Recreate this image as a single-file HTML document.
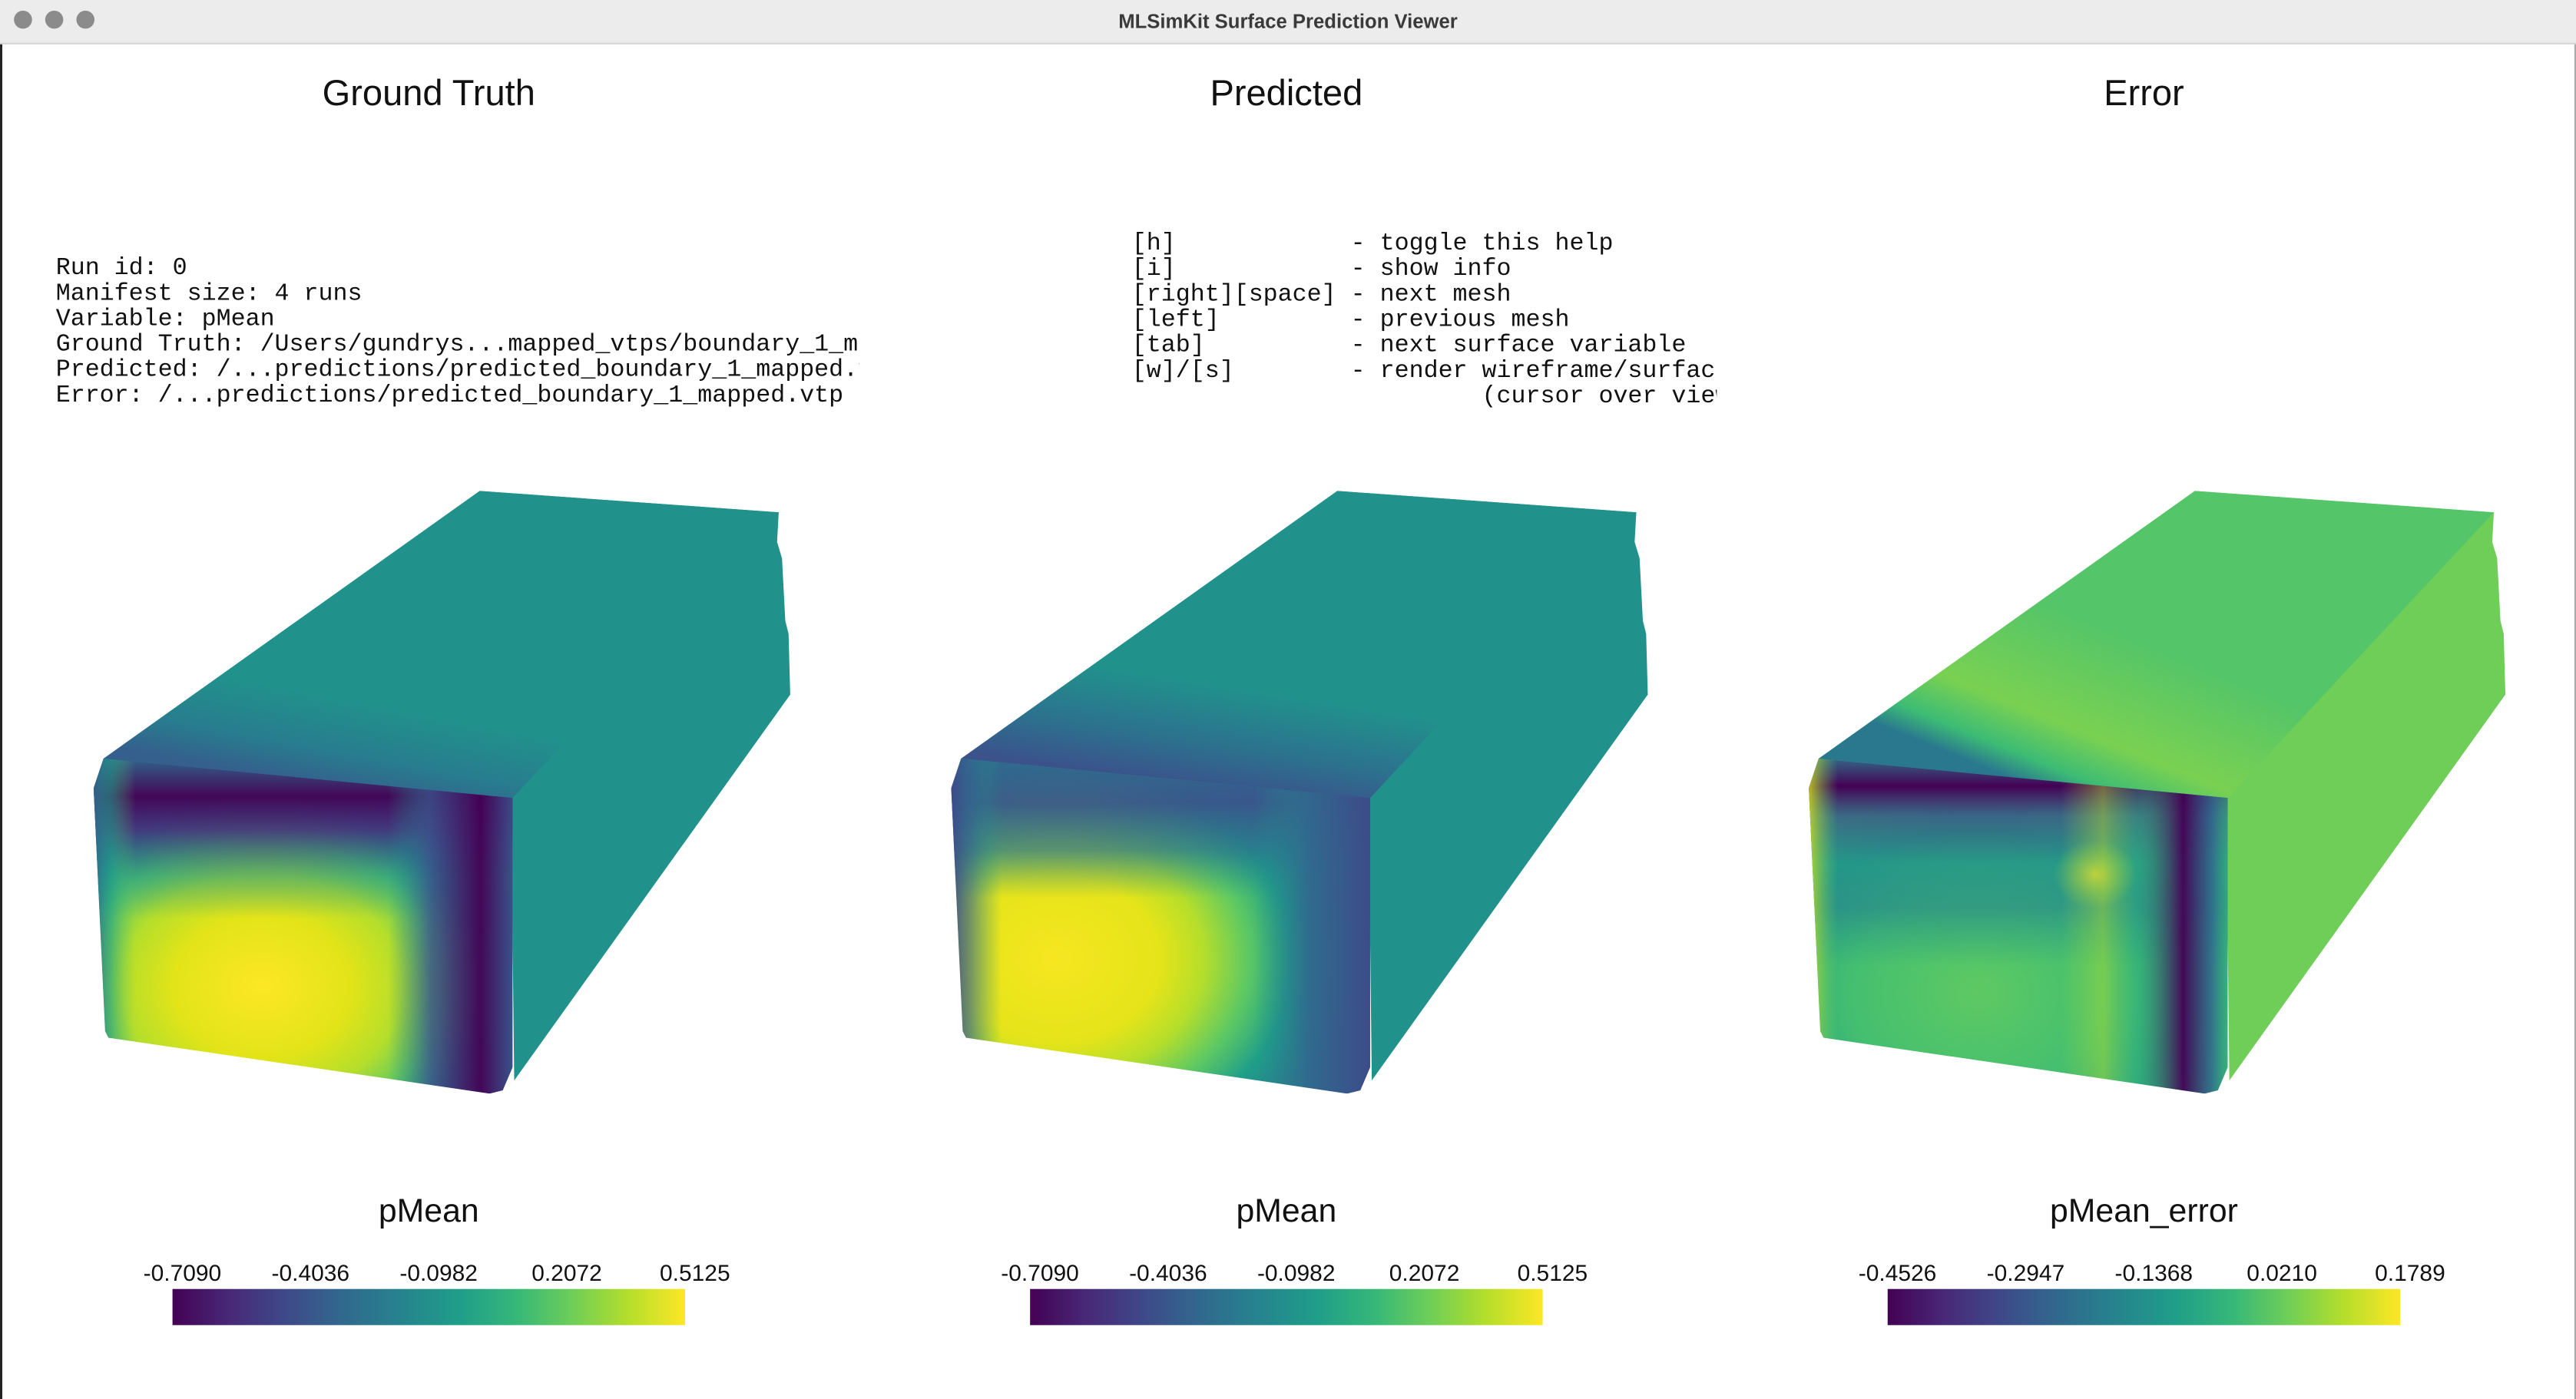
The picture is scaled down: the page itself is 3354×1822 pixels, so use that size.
<!DOCTYPE html>
<html><head><meta charset="utf-8"><style>
html,body{margin:0;padding:0;background:#fff;width:3354px;height:1822px;overflow:hidden}
svg{display:block}
.pre{white-space:pre}
</style></head><body>
<svg id="root" width="3354" height="1822" viewBox="0 0 1568 852" preserveAspectRatio="none" xmlns="http://www.w3.org/2000/svg">
<defs>
<linearGradient id="viridis" x1="0" x2="1" y1="0" y2="0">
<stop offset="0" stop-color="#440154"/><stop offset="0.11" stop-color="#482878"/><stop offset="0.22" stop-color="#3e4989"/><stop offset="0.33" stop-color="#31688e"/><stop offset="0.44" stop-color="#26828e"/><stop offset="0.56" stop-color="#1f9e89"/><stop offset="0.67" stop-color="#35b779"/><stop offset="0.78" stop-color="#6ece58"/><stop offset="0.89" stop-color="#b5de2b"/><stop offset="1" stop-color="#fde725"/>
</linearGradient>
<clipPath id="frontClip"><polygon points="57,480 63,462 312,486 312,650 306,664 298,666 66,632 64,628"/></clipPath>
<clipPath id="infoClip"><rect x="0" y="100" width="523" height="200"/></clipPath>
<clipPath id="helpClip"><rect x="600" y="100" width="445" height="200"/></clipPath>
<!-- GT -->
<radialGradient id="gtBase" cx="0.4" cy="0.68" r="0.6">
<stop offset="0" stop-color="#fde725"/><stop offset="0.35" stop-color="#e2e418"/><stop offset="0.55" stop-color="#b5de2b"/><stop offset="0.72" stop-color="#5ec962"/><stop offset="0.88" stop-color="#21918c"/><stop offset="1" stop-color="#2c728e"/>
</radialGradient>
<linearGradient id="gtTop" x1="0" y1="0" x2="0" y2="1">
<stop offset="0" stop-color="#31688e" stop-opacity="0.9"/><stop offset="0.12" stop-color="#440154" stop-opacity="0.95"/><stop offset="0.22" stop-color="#472d7b" stop-opacity="0.85"/><stop offset="0.36" stop-color="#21918c" stop-opacity="0.5"/><stop offset="0.48" stop-color="#21918c" stop-opacity="0"/>
</linearGradient>
<linearGradient id="gtRight" x1="0" y1="0" x2="1" y2="0">
<stop offset="0.7" stop-color="#21918c" stop-opacity="0"/><stop offset="0.8" stop-color="#3b528b" stop-opacity="0.8"/><stop offset="0.92" stop-color="#440154" stop-opacity="0.95"/><stop offset="1" stop-color="#3b528b" stop-opacity="0.9"/>
</linearGradient>
<linearGradient id="gtLeft" x1="0" y1="0" x2="1" y2="0">
<stop offset="0" stop-color="#31688e" stop-opacity="0.9"/><stop offset="0.04" stop-color="#1f9e89" stop-opacity="0.6"/><stop offset="0.1" stop-color="#5ec962" stop-opacity="0"/>
</linearGradient>
<linearGradient id="gtTopFace" gradientUnits="userSpaceOnUse" x1="190" y1="478" x2="200" y2="425">
<stop offset="0" stop-color="#355f8d"/><stop offset="0.4" stop-color="#287c8e"/><stop offset="1" stop-color="#21918c"/>
</linearGradient>
<!-- Pred -->
<radialGradient id="prBase" cx="0.25" cy="0.6" r="0.7">
<stop offset="0" stop-color="#f6e620"/><stop offset="0.35" stop-color="#e5e419"/><stop offset="0.5" stop-color="#b5de2b"/><stop offset="0.65" stop-color="#5ec962"/><stop offset="0.8" stop-color="#1f9e89"/><stop offset="1" stop-color="#2c728e"/>
</radialGradient>
<linearGradient id="prTop" x1="0" y1="0" x2="0" y2="1">
<stop offset="0" stop-color="#31688e" stop-opacity="0.9"/><stop offset="0.14" stop-color="#3b528b" stop-opacity="0.9"/><stop offset="0.28" stop-color="#2c728e" stop-opacity="0.7"/><stop offset="0.42" stop-color="#21918c" stop-opacity="0"/>
</linearGradient>
<linearGradient id="prRight" x1="0" y1="0" x2="1" y2="0">
<stop offset="0.72" stop-color="#21918c" stop-opacity="0"/><stop offset="0.85" stop-color="#31688e" stop-opacity="0.9"/><stop offset="1" stop-color="#3e4989" stop-opacity="0.95"/>
</linearGradient>
<linearGradient id="prLeft" x1="0" y1="0" x2="1" y2="0">
<stop offset="0" stop-color="#3e4989" stop-opacity="0.95"/><stop offset="0.05" stop-color="#31688e" stop-opacity="0.6"/><stop offset="0.12" stop-color="#1f9e89" stop-opacity="0"/>
</linearGradient>
<linearGradient id="prTopFace" gradientUnits="userSpaceOnUse" x1="190" y1="478" x2="200" y2="415">
<stop offset="0" stop-color="#3b528b"/><stop offset="0.45" stop-color="#2c728e"/><stop offset="1" stop-color="#21918c"/>
</linearGradient>
<!-- Error -->
<radialGradient id="erBase" cx="0.4" cy="0.7" r="0.6">
<stop offset="0" stop-color="#5ec962"/><stop offset="0.5" stop-color="#44bf70"/><stop offset="0.8" stop-color="#2aa67f"/><stop offset="1" stop-color="#35b779"/>
</radialGradient>
<linearGradient id="erTop" x1="0" y1="0" x2="0" y2="1">
<stop offset="0" stop-color="#31688e" stop-opacity="0.9"/><stop offset="0.09" stop-color="#440154"/><stop offset="0.18" stop-color="#3e4989" stop-opacity="0.7"/><stop offset="0.32" stop-color="#21918c" stop-opacity="0.7"/><stop offset="0.45" stop-color="#26828e" stop-opacity="0.6"/><stop offset="0.62" stop-color="#21918c" stop-opacity="0"/>
</linearGradient>
<linearGradient id="erRight" x1="0" y1="0" x2="1" y2="0">
<stop offset="0" stop-color="#d8e219" stop-opacity="0.8"/><stop offset="0.07" stop-color="#5ec962" stop-opacity="0"/><stop offset="0.6" stop-color="#b5de2b" stop-opacity="0"/><stop offset="0.7" stop-color="#b5de2b" stop-opacity="0.45"/><stop offset="0.78" stop-color="#35b779" stop-opacity="0.3"/><stop offset="0.89" stop-color="#440154" stop-opacity="0.95"/><stop offset="0.96" stop-color="#31688e" stop-opacity="0.8"/><stop offset="1" stop-color="#35b779" stop-opacity="0.6"/>
</linearGradient>
<radialGradient id="erSpot" cx="0.68" cy="0.35" r="0.1">
<stop offset="0" stop-color="#fde725" stop-opacity="0.6"/><stop offset="1" stop-color="#b5de2b" stop-opacity="0"/>
</radialGradient>
<linearGradient id="erTopFace" gradientUnits="userSpaceOnUse" x1="190" y1="478" x2="230" y2="380">
<stop offset="0" stop-color="#2a788e"/><stop offset="0.15" stop-color="#3dbc74"/><stop offset="0.4" stop-color="#7ad151"/><stop offset="1" stop-color="#54c568"/>
</linearGradient>
</defs>

<!-- title bar -->
<rect x="0" y="0" width="1568" height="26" fill="#ececec"/>
<line x1="0" y1="26.5" x2="1568" y2="26.5" stroke="#d4d4d4" stroke-width="1"/>
<circle cx="14" cy="12" r="5.5" fill="#8b8b8b"/>
<circle cx="33" cy="12" r="5.5" fill="#8b8b8b"/>
<circle cx="52" cy="12" r="5.5" fill="#8b8b8b"/>
<text x="784" y="17" text-anchor="middle" font-family="Liberation Sans, sans-serif" font-weight="bold" font-size="12" fill="#3a3a3a">MLSimKit Surface Prediction Viewer</text>
<line x1="0.7" y1="27" x2="0.7" y2="852" stroke="#222" stroke-width="1.4"/>
<line x1="1567.5" y1="27" x2="1567.5" y2="852" stroke="#aaa" stroke-width="1"/>

<!-- titles -->
<g font-family="Liberation Sans, sans-serif" font-size="22" fill="#111" text-anchor="middle">
<text x="261" y="64">Ground Truth</text>
<text x="783" y="64">Predicted</text>
<text x="1305" y="64">Error</text>
</g>

<!-- info text -->
<g clip-path="url(#infoClip)" font-family="Liberation Mono, monospace" font-size="14.8" fill="#111">
<text x="34" y="167">Run id: 0</text>
<text x="34" y="182.5">Manifest size: 4 runs</text>
<text x="34" y="198">Variable: pMean</text>
<text x="34" y="213.5">Ground Truth: /Users/gundrys...mapped_vtps/boundary_1_mapped.vtp</text>
<text x="34" y="229">Predicted: /...predictions/predicted_boundary_1_mapped.vtp</text>
<text x="34" y="244.5">Error: /...predictions/predicted_boundary_1_mapped.vtp</text>
</g>
<g clip-path="url(#helpClip)" font-family="Liberation Mono, monospace" font-size="14.8" fill="#111">
<text class="pre" x="689" y="152">[h]            - toggle this help</text>
<text class="pre" x="689" y="167.5">[i]            - show info</text>
<text class="pre" x="689" y="183">[right][space] - next mesh</text>
<text class="pre" x="689" y="198.5">[left]         - previous mesh</text>
<text class="pre" x="689" y="214">[tab]          - next surface variable</text>
<text class="pre" x="689" y="229.5">[w]/[s]        - render wireframe/surface</text>
<text class="pre" x="689" y="245">                        (cursor over view)</text>
</g>

<!-- boxes -->
<g>
<polygon points="63,462 292,299 474,312 473,330 476,340 478,378 480,386 481,423 313,658 311,487" fill="#21918c"/>
<polygon points="63,462 292,299 474,312 311,487" fill="url(#gtTopFace)"/>
<g clip-path="url(#frontClip)">
<rect x="57" y="460" width="256" height="207" fill="url(#gtBase)"/>
<rect x="57" y="460" width="256" height="207" fill="url(#gtTop)"/>
<rect x="57" y="460" width="256" height="207" fill="url(#gtRight)"/>
<rect x="57" y="460" width="256" height="207" fill="url(#gtLeft)"/>
</g>
</g>
<g transform="translate(522,0)">
<polygon points="63,462 292,299 474,312 473,330 476,340 478,378 480,386 481,423 313,658 311,487" fill="#21918c"/>
<polygon points="63,462 292,299 474,312 311,487" fill="url(#prTopFace)"/>
<g clip-path="url(#frontClip)">
<rect x="57" y="460" width="256" height="207" fill="url(#prBase)"/>
<rect x="57" y="460" width="256" height="207" fill="url(#prTop)"/>
<rect x="57" y="460" width="256" height="207" fill="url(#prRight)"/>
<rect x="57" y="460" width="256" height="207" fill="url(#prLeft)"/>
</g>
</g>
<g transform="translate(1044,0)">
<polygon points="63,462 292,299 474,312 473,330 476,340 478,378 480,386 481,423 313,658 311,487" fill="#6ece58"/>
<polygon points="63,462 292,299 474,312 311,487" fill="url(#erTopFace)"/>
<g clip-path="url(#frontClip)">
<rect x="57" y="460" width="256" height="207" fill="url(#erBase)"/>
<rect x="57" y="460" width="256" height="207" fill="url(#erTop)"/>
<rect x="57" y="460" width="256" height="207" fill="url(#erRight)"/>
<rect x="57" y="460" width="256" height="207" fill="url(#erSpot)"/>
</g>
</g>

<g id="colorbars"></g>
</svg>
<script>
const barCenters = [261, 783, 1305];
const barTitles = ["pMean", "pMean", "pMean_error"];
const gtTicks = [-0.7090, -0.4036, -0.0982, 0.2072, 0.5125];
const predTicks = [-0.7090, -0.4036, -0.0982, 0.2072, 0.5125];
const errTicks = [-0.4526, -0.2947, -0.1368, 0.0210, 0.1789];
const allTicks = [gtTicks, predTicks, errTicks];
const NS = "http://www.w3.org/2000/svg";
const host = document.getElementById("colorbars");
const barW = 312, barH = 22, barY = 785;
allTicks.forEach((ticks, i) => {
  const x0 = barCenters[i] - 156;
  const lo = ticks[0], hi = ticks[ticks.length - 1];
  const sx = v => x0 + 6 + (v - lo) / (hi - lo) * barW;
  const g = document.createElementNS(NS, "g");
  
  
  const r = document.createElementNS(NS, "rect");
  
  
  r.setAttribute("x", x0); r.setAttribute("y", barY);
  r.setAttribute("width", barW); r.setAttribute("height", barH);
  r.setAttribute("fill", "url(#viridis)");
  g.appendChild(r);
  const t = document.createElementNS(NS, "text");
  
  
  t.setAttribute("x", barCenters[i]); t.setAttribute("y", 744);
  t.setAttribute("text-anchor", "middle");
  t.setAttribute("font-family", "Liberation Sans, sans-serif");
  t.setAttribute("font-size", "20"); t.setAttribute("fill", "#111");
  t.textContent = barTitles[i];
  g.appendChild(t);
  ticks.forEach(v => {
    const l = document.createElementNS(NS, "text");
    
    
    l.setAttribute("x", sx(v)); l.setAttribute("y", 780);
    l.setAttribute("text-anchor", "middle");
    l.setAttribute("font-family", "Liberation Sans, sans-serif");
    l.setAttribute("font-size", "14"); l.setAttribute("fill", "#111");
    l.textContent = v.toFixed(4);
    g.appendChild(l);
  });
  host.appendChild(g);
});
</script>
</body></html>
